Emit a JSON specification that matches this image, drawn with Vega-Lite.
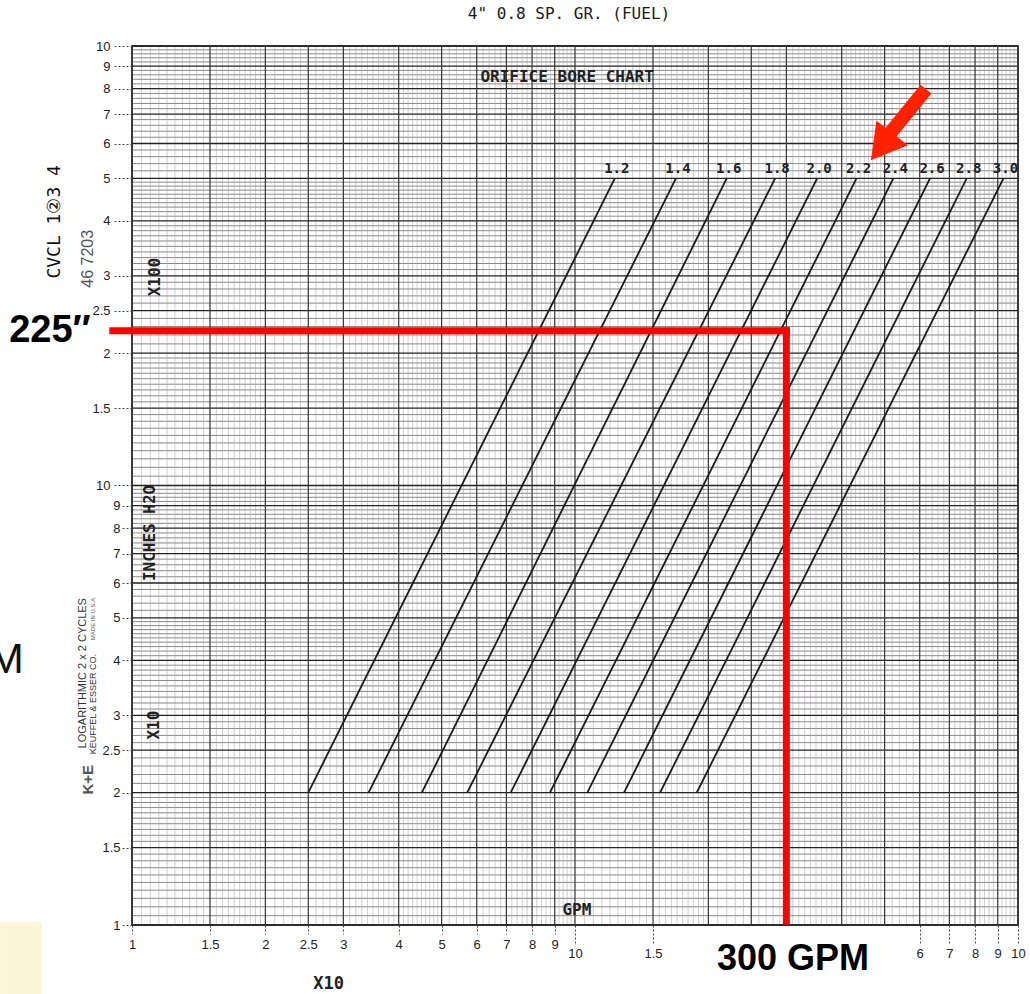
{
  "$schema": "https://vega.github.io/schema/vega-lite/v6.json",
  "width": 886,
  "height": 879,
  "autosize": {"type": "none"},
  "padding": {"left": 132, "top": 46, "right": 12, "bottom": 69},
  "background": "white",
  "config": {"view": {"stroke": "#1a1a1a", "strokeWidth": 1.6}},
  "title": {"text": "4\" 0.8 SP. GR. (FUEL)", "font": "DejaVu Sans Mono", "fontSize": 16, "fontWeight": "normal", "color": "#1a1a1a", "offset": 18, "dx": -6, "anchor": "middle"},
  "data": {"values": [{}]},
  "datasets": {
    "minor": [
      {"v":10.5},{"v":11},{"v":11.5},{"v":12},{"v":12.5},{"v":13},{"v":13.5},{"v":14},{"v":14.5},{"v":15.5},{"v":16},{"v":16.5},{"v":17},{"v":17.5},{"v":18},{"v":18.5},{"v":19},{"v":19.5},
      {"v":21},{"v":22},{"v":23},{"v":24},{"v":26},{"v":27},{"v":28},{"v":29},
      {"v":31},{"v":32},{"v":33},{"v":34},{"v":35},{"v":36},{"v":37},{"v":38},{"v":39},
      {"v":41},{"v":42},{"v":43},{"v":44},{"v":45},{"v":46},{"v":47},{"v":48},{"v":49},
      {"v":52},{"v":54},{"v":56},{"v":58},{"v":62},{"v":64},{"v":66},{"v":68},{"v":72},{"v":74},{"v":76},{"v":78},{"v":82},{"v":84},{"v":86},{"v":88},{"v":92},{"v":94},{"v":96},{"v":98},
      {"v":105},{"v":110},{"v":115},{"v":120},{"v":125},{"v":130},{"v":135},{"v":140},{"v":145},{"v":155},{"v":160},{"v":165},{"v":170},{"v":175},{"v":180},{"v":185},{"v":190},{"v":195},
      {"v":210},{"v":220},{"v":230},{"v":240},{"v":260},{"v":270},{"v":280},{"v":290},
      {"v":310},{"v":320},{"v":330},{"v":340},{"v":350},{"v":360},{"v":370},{"v":380},{"v":390},
      {"v":410},{"v":420},{"v":430},{"v":440},{"v":450},{"v":460},{"v":470},{"v":480},{"v":490},
      {"v":520},{"v":540},{"v":560},{"v":580},{"v":620},{"v":640},{"v":660},{"v":680},{"v":720},{"v":740},{"v":760},{"v":780},{"v":820},{"v":840},{"v":860},{"v":880},{"v":920},{"v":940},{"v":960},{"v":980}
    ],
    "major": [
      {"v":10},{"v":15},{"v":20},{"v":25},{"v":30},{"v":40},{"v":50},{"v":60},{"v":70},{"v":80},{"v":90},
      {"v":100},{"v":150},{"v":200},{"v":250},{"v":300},{"v":400},{"v":500},{"v":600},{"v":700},{"v":800},{"v":900},{"v":1000}
    ],
    "bores": [
      {"bore":"1.2","gpm":25.0,"inches":20},{"bore":"1.2","gpm":123,"inches":500},
      {"bore":"1.4","gpm":34.2,"inches":20},{"bore":"1.4","gpm":169,"inches":500},
      {"bore":"1.6","gpm":45.1,"inches":20},{"bore":"1.6","gpm":220,"inches":500},
      {"bore":"1.8","gpm":57.1,"inches":20},{"bore":"1.8","gpm":283,"inches":500},
      {"bore":"2.0","gpm":71.6,"inches":20},{"bore":"2.0","gpm":352,"inches":500},
      {"bore":"2.2","gpm":87.8,"inches":20},{"bore":"2.2","gpm":432,"inches":500},
      {"bore":"2.4","gpm":106.6,"inches":20},{"bore":"2.4","gpm":523,"inches":500},
      {"bore":"2.6","gpm":129,"inches":20},{"bore":"2.6","gpm":633,"inches":500},
      {"bore":"2.8","gpm":155.6,"inches":20},{"bore":"2.8","gpm":766,"inches":500},
      {"bore":"3.0","gpm":188.3,"inches":20},{"bore":"3.0","gpm":927,"inches":500}
    ],
    "chartLabels": [
      {"text":"ORIFICE BORE CHART","gpm":96,"inches":850},
      {"text":"GPM","gpm":101,"inches":10.8}
    ],
    "scaleNotes": [
      {"text":"X100","gpm":11.27,"inches":298},
      {"text":"INCHES H2O","gpm":10.98,"inches":78},
      {"text":"X10","gpm":11.2,"inches":28.5}
    ],
    "reading": [
      {"gpm":9.05,"gpm2":300,"inches":225,"inches2":225},
      {"gpm":300,"gpm2":300,"inches":225,"inches2":10.2}
    ],
    "arrow": [
      {"gpm":620,"gpm2":498,"inches":798,"inches2":608}
    ],
    "arrowHead": [
      {"gpm":492,"inches":590}
    ]
  },
  "layer": [
    {
      "mark": {"type": "rect", "color": "#fbf1c6", "opacity": 0.7, "clip": false},
      "encoding": {
        "x": {
          "datum": 5.04, "type": "quantitative",
          "scale": {"type": "log", "domain": [10, 1000]},
          "axis": {
            "values": [10, 15, 20, 25, 30, 40, 50, 60, 70, 80, 90, 100, 150, 600, 700, 800, 900, 1000],
            "labelExpr": "datum.value == 100 || datum.value == 1000 ? '10' : (datum.value > 100 ? '' + (datum.value / 100) : '' + (datum.value / 10))",
            "title": null, "grid": false, "domain": false, "orient": "bottom",
            "tickDash": [2, 2], "tickColor": "#444", "tickWidth": 1,
            "tickSize": {"condition": {"test": "datum.value >= 100", "value": 20}, "value": 9},
            "labelPadding": {"condition": {"test": "datum.value >= 100", "value": 2}, "value": 4},
            "labelFont": "Liberation Sans", "labelFontSize": 13, "labelColor": "#222",
            "labelOverlap": false, "labelFlush": false
          }
        },
        "x2": {"datum": 6.26},
        "y": {
          "datum": 10.16, "type": "quantitative",
          "scale": {"type": "log", "domain": [10, 1000]},
          "axis": {
            "values": [10, 15, 20, 25, 30, 40, 50, 60, 70, 80, 90, 100, 150, 200, 250, 300, 400, 500, 600, 700, 800, 900, 1000],
            "labelExpr": "datum.value == 100 || datum.value == 1000 ? '10' : (datum.value > 100 ? '' + (datum.value / 100) : '' + (datum.value / 10))",
            "title": null, "grid": false, "domain": false, "orient": "left",
            "tickDash": [2, 2], "tickColor": "#444", "tickWidth": 1,
            "tickSize": {"condition": {"test": "datum.value >= 100", "value": 20}, "value": 10},
            "labelPadding": 2,
            "labelFont": "Liberation Sans", "labelFontSize": 13, "labelColor": "#222",
            "labelOverlap": false, "labelFlush": false
          }
        },
        "y2": {"datum": 6.97}
      }
    },
    {
      "data": {"name": "minor"},
      "mark": {"type": "rule", "color": "#444", "strokeWidth": 0.7, "opacity": 0.9},
      "encoding": {"y": {"field": "v", "type": "quantitative", "scale": {"type": "log", "domain": [10, 1000]}}}
    },
    {
      "data": {"name": "minor"},
      "mark": {"type": "rule", "color": "#999", "strokeWidth": 0.6, "opacity": 0.8},
      "encoding": {"x": {"field": "v", "type": "quantitative", "scale": {"type": "log", "domain": [10, 1000]}}}
    },
    {
      "data": {"name": "major"},
      "mark": {"type": "rule", "color": "#222", "strokeWidth": 1.3},
      "encoding": {"y": {"field": "v", "type": "quantitative", "scale": {"type": "log", "domain": [10, 1000]}}}
    },
    {
      "data": {"name": "major"},
      "mark": {"type": "rule", "color": "#333", "strokeWidth": 1.2},
      "encoding": {"x": {"field": "v", "type": "quantitative", "scale": {"type": "log", "domain": [10, 1000]}}}
    },
    {
      "data": {"name": "bores"},
      "mark": {"type": "line", "color": "#1a1a1a", "strokeWidth": 1.8},
      "encoding": {
        "x": {"field": "gpm", "type": "quantitative", "scale": {"type": "log", "domain": [10, 1000]}},
        "y": {"field": "inches", "type": "quantitative", "scale": {"type": "log", "domain": [10, 1000]}},
        "detail": {"field": "bore"}
      }
    },
    {
      "data": {"name": "bores"},
      "transform": [{"filter": "datum.inches == 500"}],
      "mark": {"type": "text", "font": "DejaVu Sans Mono", "fontSize": 14, "fontWeight": "bold", "color": "#222", "dy": -9, "dx": 2, "clip": false},
      "encoding": {
        "x": {"field": "gpm", "type": "quantitative", "scale": {"type": "log", "domain": [10, 1000]}},
        "y": {"field": "inches", "type": "quantitative", "scale": {"type": "log", "domain": [10, 1000]}},
        "text": {"field": "bore"}
      }
    },
    {
      "data": {"name": "chartLabels"},
      "mark": {"type": "text", "font": "DejaVu Sans Mono", "fontSize": 16, "fontWeight": "bold", "color": "#222", "clip": false},
      "encoding": {
        "x": {"field": "gpm", "type": "quantitative", "scale": {"type": "log", "domain": [10, 1000]}},
        "y": {"field": "inches", "type": "quantitative", "scale": {"type": "log", "domain": [10, 1000]}},
        "text": {"field": "text"}
      }
    },
    {
      "data": {"name": "scaleNotes"},
      "mark": {"type": "text", "font": "DejaVu Sans Mono", "fontSize": 16, "fontWeight": "bold", "color": "#222", "angle": 270, "clip": false},
      "encoding": {
        "x": {"field": "gpm", "type": "quantitative", "scale": {"type": "log", "domain": [10, 1000]}},
        "y": {"field": "inches", "type": "quantitative", "scale": {"type": "log", "domain": [10, 1000]}},
        "text": {"field": "text"}
      }
    },
    {
      "mark": {"type": "text", "text": "CVCL 1②3 4", "font": "DejaVu Sans Mono", "fontSize": 18, "color": "#111", "angle": 270, "clip": false},
      "encoding": {
        "x": {"datum": 6.70, "type": "quantitative", "scale": {"type": "log", "domain": [10, 1000]}},
        "y": {"datum": 398, "type": "quantitative", "scale": {"type": "log", "domain": [10, 1000]}}
      }
    },
    {
      "mark": {"type": "text", "text": "46 7203", "font": "Liberation Sans", "fontSize": 16, "color": "#555", "angle": 270, "clip": false},
      "encoding": {
        "x": {"datum": 7.96, "type": "quantitative", "scale": {"type": "log", "domain": [10, 1000]}},
        "y": {"datum": 328, "type": "quantitative", "scale": {"type": "log", "domain": [10, 1000]}}
      }
    },
    {
      "mark": {"type": "text", "text": "LOGARITHMIC 2 x 2 CYCLES", "font": "Liberation Sans", "fontSize": 11, "color": "#333", "angle": 270, "clip": false},
      "encoding": {
        "x": {"datum": 7.75, "type": "quantitative", "scale": {"type": "log", "domain": [10, 1000]}},
        "y": {"datum": 37.4, "type": "quantitative", "scale": {"type": "log", "domain": [10, 1000]}}
      }
    },
    {
      "mark": {"type": "text", "text": "KEUFFEL & ESSER CO.", "font": "Liberation Sans", "fontSize": 9, "color": "#333", "angle": 270, "clip": false},
      "encoding": {
        "x": {"datum": 8.17, "type": "quantitative", "scale": {"type": "log", "domain": [10, 1000]}},
        "y": {"datum": 31.8, "type": "quantitative", "scale": {"type": "log", "domain": [10, 1000]}}
      }
    },
    {
      "mark": {"type": "text", "text": "MADE IN U.S.A.", "font": "Liberation Sans", "fontSize": 6, "color": "#555", "angle": 270, "clip": false},
      "encoding": {
        "x": {"datum": 8.17, "type": "quantitative", "scale": {"type": "log", "domain": [10, 1000]}},
        "y": {"datum": 49.9, "type": "quantitative", "scale": {"type": "log", "domain": [10, 1000]}}
      }
    },
    {
      "mark": {"type": "text", "text": "K+E", "font": "Liberation Sans", "fontSize": 15, "fontWeight": "bold", "color": "#555", "angle": 270, "clip": false},
      "encoding": {
        "x": {"datum": 7.96, "type": "quantitative", "scale": {"type": "log", "domain": [10, 1000]}},
        "y": {"datum": 21.4, "type": "quantitative", "scale": {"type": "log", "domain": [10, 1000]}}
      }
    },
    {
      "data": {"name": "reading"},
      "mark": {"type": "rule", "color": "#ff0000", "strokeWidth": 7, "strokeCap": "square", "clip": false},
      "encoding": {
        "x": {"field": "gpm", "type": "quantitative", "scale": {"type": "log", "domain": [10, 1000]}},
        "x2": {"field": "gpm2"},
        "y": {"field": "inches", "type": "quantitative", "scale": {"type": "log", "domain": [10, 1000]}},
        "y2": {"field": "inches2"}
      }
    },
    {
      "data": {"name": "arrow"},
      "mark": {"type": "rule", "color": "#ff2200", "strokeWidth": 14, "clip": false},
      "encoding": {
        "x": {"field": "gpm", "type": "quantitative", "scale": {"type": "log", "domain": [10, 1000]}},
        "x2": {"field": "gpm2"},
        "y": {"field": "inches", "type": "quantitative", "scale": {"type": "log", "domain": [10, 1000]}},
        "y2": {"field": "inches2"}
      }
    },
    {
      "data": {"name": "arrowHead"},
      "mark": {"type": "point", "shape": "triangle-up", "filled": true, "color": "#ff2200", "opacity": 1, "size": 1600, "angle": 218, "clip": false},
      "encoding": {
        "x": {"field": "gpm", "type": "quantitative", "scale": {"type": "log", "domain": [10, 1000]}},
        "y": {"field": "inches", "type": "quantitative", "scale": {"type": "log", "domain": [10, 1000]}}
      }
    },
    {
      "mark": {"type": "text", "text": "225″", "font": "Liberation Sans", "fontSize": 38, "fontWeight": "bold", "color": "#000", "clip": false},
      "encoding": {
        "x": {"datum": 6.53, "type": "quantitative", "scale": {"type": "log", "domain": [10, 1000]}},
        "y": {"datum": 224.7, "type": "quantitative", "scale": {"type": "log", "domain": [10, 1000]}}
      }
    },
    {
      "mark": {"type": "text", "text": "300 GPM", "font": "Liberation Sans", "fontSize": 36, "fontWeight": "bold", "color": "#000", "clip": false},
      "encoding": {
        "x": {"datum": 310.5, "type": "quantitative", "scale": {"type": "log", "domain": [10, 1000]}},
        "y": {"datum": 8.37, "type": "quantitative", "scale": {"type": "log", "domain": [10, 1000]}}
      }
    },
    {
      "mark": {"type": "text", "text": "M", "font": "Liberation Sans", "fontSize": 43, "color": "#111", "clip": false},
      "encoding": {
        "x": {"datum": 5.19, "type": "quantitative", "scale": {"type": "log", "domain": [10, 1000]}},
        "y": {"datum": 40.1, "type": "quantitative", "scale": {"type": "log", "domain": [10, 1000]}}
      }
    },
    {
      "mark": {"type": "text", "text": "X10", "font": "DejaVu Sans Mono", "fontSize": 17, "fontWeight": "bold", "color": "#222", "clip": false},
      "encoding": {
        "x": {"datum": 27.8, "type": "quantitative", "scale": {"type": "log", "domain": [10, 1000]}},
        "y": {"datum": 7.34, "type": "quantitative", "scale": {"type": "log", "domain": [10, 1000]}}
      }
    }
  ]
}
